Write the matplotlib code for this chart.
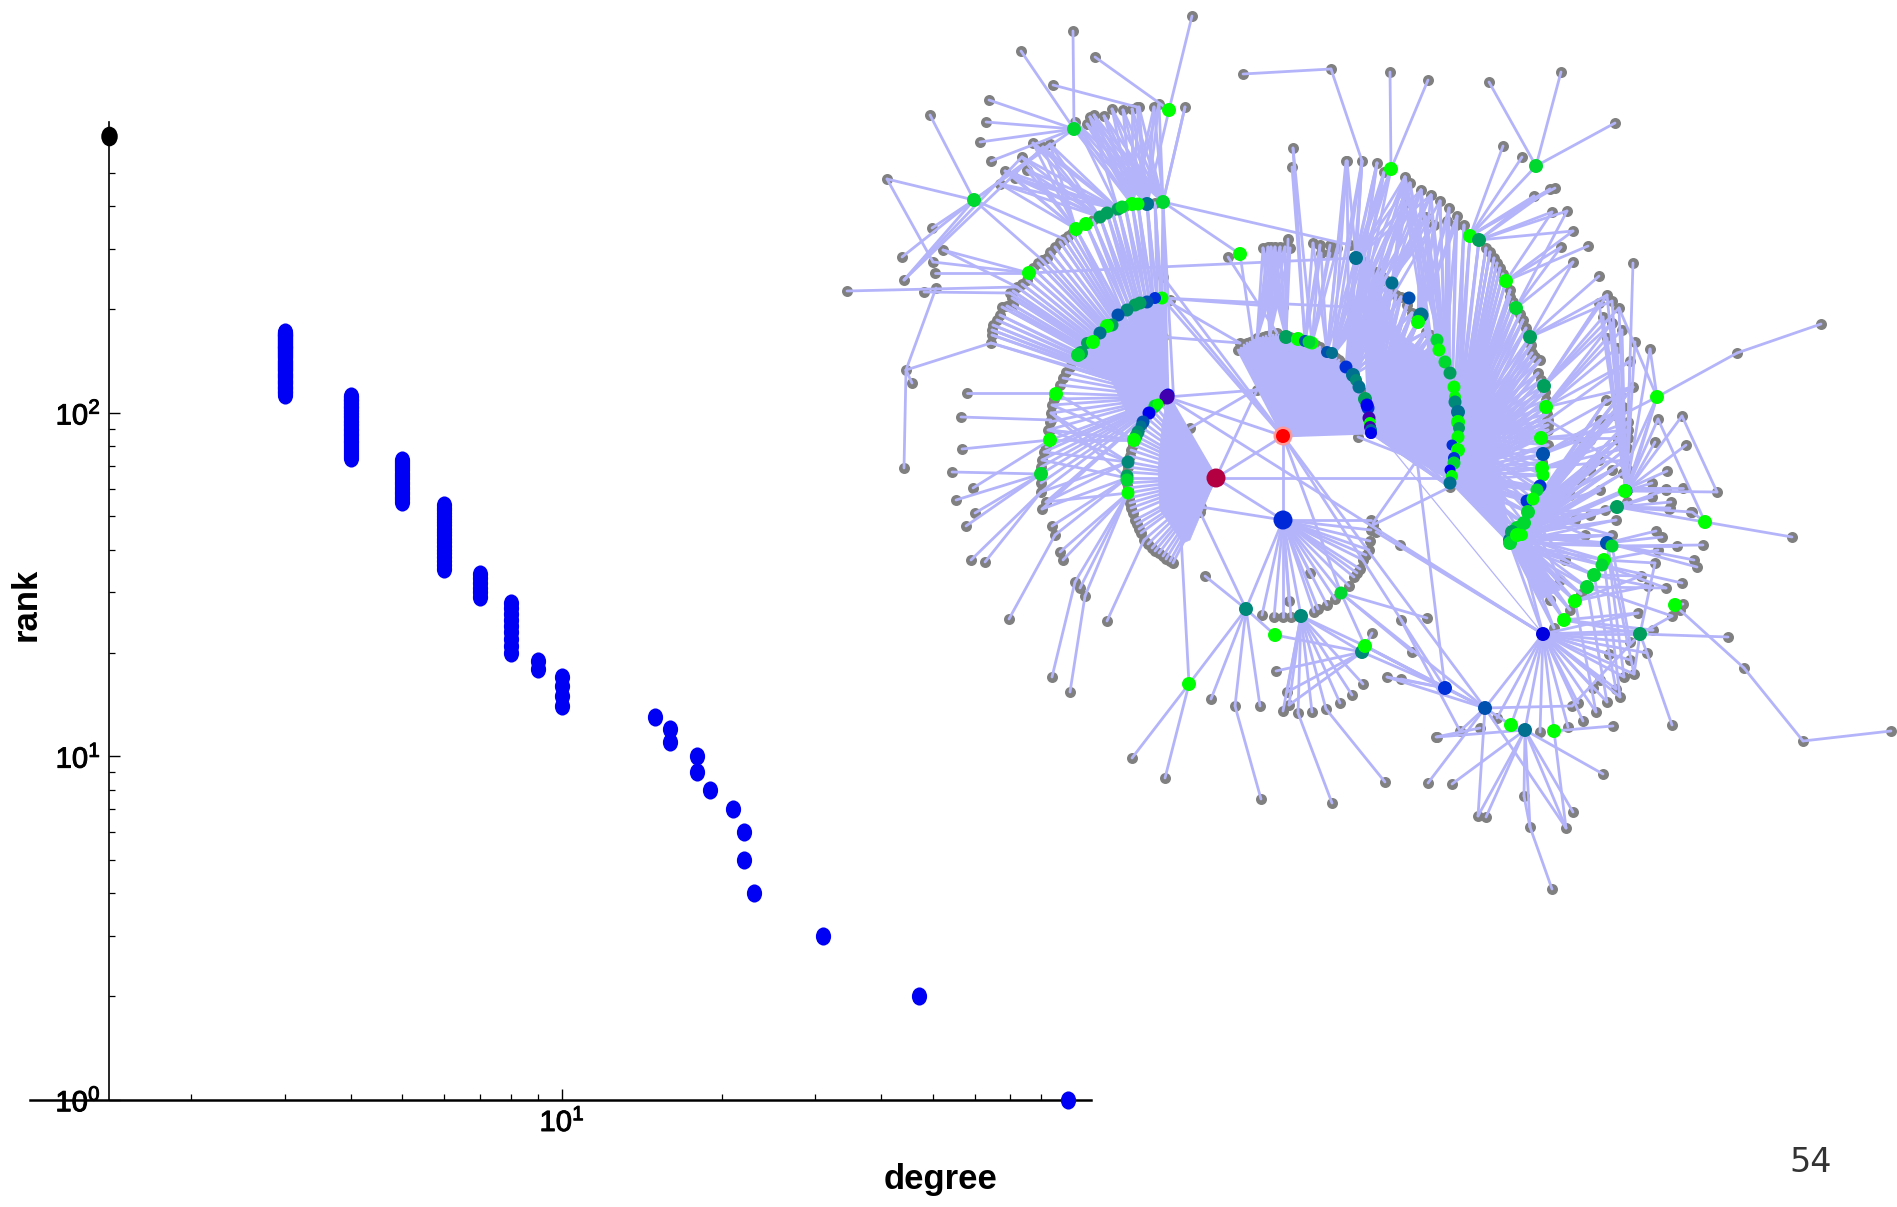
import matplotlib
matplotlib.use("Agg")
import matplotlib.pyplot as plt
import matplotlib.patheffects as pe
from matplotlib.collections import LineCollection
from matplotlib.patches import Polygon
from matplotlib.path import Path
from matplotlib.transforms import Affine2D

plt.rcParams['font.family'] = ['Liberation Sans', 'DejaVu Sans']
plt.rcParams['mathtext.fontset'] = 'custom'
plt.rcParams['mathtext.rm'] = 'Liberation Sans'
plt.rcParams['mathtext.it'] = 'Liberation Sans'
plt.rcParams['mathtext.bf'] = 'Liberation Sans:bold'

# ---------- rank / degree data ----------
deg_3 = [113,114,115,116,117,118,119,120,121,122,123,124,125,126,127,128,129,130,131,132,133,134,135,136,137,138,139,140,141,142,143,144,145,146,147,148,149,150,151,152,153,154,155,156,157,158,159,160,161,162,163,164,165,166,167,168,169,170,171,172]
deg_4 = [74,75,76,77,78,79,80,81,82,83,84,85,86,87,88,89,90,91,92,93,94,95,96,97,98,99,100,101,102,103,104,105,106,107,108,109,110,111,112]
deg_5 = [55,56,57,58,59,60,61,62,63,64,65,66,67,68,69,70,71,72,73]
deg_6 = [35,36,37,38,39,40,41,42,43,44,45,46,47,48,49,50,51,52,53,54]
deg_7 = [29,30,31,32,33,34]
deg_8 = [20,21,22,23,24,25,26,27,28]
deg_9 = [18,19]
deg_10 = [14,15,16,17]
high_degree = [15,16,16,18,18,19,21,22,22,23,31,47,90]
high_rank = [13,12,11,10,9,8,7,6,5,4,3,2,1]
group_degree = [3,4,5,6,7,8,9,10]
group_ranks = [deg_3,deg_4,deg_5,deg_6,deg_7,deg_8,deg_9,deg_10]
origin_point = (1.4, 640)
x_minor = [2,3,4,5,6,7,8,9,20,30,40,50,60,70,80,90]
y_minor = [2,3,4,5,6,7,8,9,20,30,40,50,60,70,80,90,200,300,400,500]

# ---------- network data (layout coordinates) ----------
CRIMSON=(1216,478); RED=(1283,436); BLUE=(1283,520)
PURPLE=(1167,397); F_END=(1371,433); J_HUB=(1450,481); W_HUB=(1510,543)
K=(1543,634); L=(1485,708); M=(1445,688); T=(1525,730); N=(1246,609); P=(1301,616); Q=(1362,652)

C_arc=[(1163,202),(1155,203),(1147,204),(1138,204),(1132,204),(1125,206),(1118,209),(1112,211),(1107,213),(1100,217),(1093,220),(1086,224),(1076,229)]
D_arc=[(1162,298),(1155,298),(1147,302),(1141,303),(1135,305),(1127,310),(1122,312),(1118,315),(1112,325),(1107,326),(1100,333),(1093,342),(1087,343),(1080,353)]
left_gray=[(1072,233),(1068,236),(1064,239),(1060,242),(1055,247),(1050,252),(1047,258),(1042,260),(1038,263),(1033,268),(1029,273),(1027,280),(1022,284),(1017,287),(1013,291),(1010,293),(1012,298),(1013,305),(1007,306),(1002,307),(1000,315),(997,320),(993,325),(992,330),(992,335),(991,343)]
lower_gray=[(1074,360),(1070,367),(1066,372),(1063,378),(1060,385),(1056,393),(1054,399),(1052,405),(1051,413),(1050,422),(1048,430),(1050,440),(1046,447),(1044,452),(1042,460),(1041,467),(1041,474),(1041,483),(1041,492),(1046,502),(1042,509)]
E_arc=[(1168,395),(1160,402),(1155,406),(1152,410),(1149,413),(1146,417),(1143,422),(1141,427),(1138,432),(1136,436),(1134,440),(1133,445),(1131,450),(1130,456),(1128,462),(1128,467),(1127,472),(1127,478),(1127,483),(1128,488),(1128,493),(1129,498),(1130,503),(1131,508),(1133,513),(1135,520),(1137,524),(1139,529),(1141,533),(1144,540),(1148,544),(1152,548),(1155,551),(1159,553),(1163,556),(1166,559),(1170,561),(1173,563)]
F_arc=[(1238,350),(1241,348),(1244,345),(1247,343),(1250,342),(1254,340),(1257,338),(1260,338),(1263,337),(1266,336),(1270,335),(1273,335),(1276,335),(1279,335),(1282,336),(1286,337),(1290,337),(1294,338),(1298,339),(1302,340),(1305,341),(1309,342),(1312,343),(1316,345),(1320,347),(1323,349),(1327,352),(1330,353),(1333,355),(1336,358),(1339,360),(1342,363),(1346,367),(1349,371),(1353,375),(1355,379),(1357,383),(1359,387),(1361,391),(1363,395),(1365,399),(1366,403),(1368,408),(1368,413),(1369,418),(1370,423),(1370,427),(1371,430)]
H_arc=[(1364,262),(1369,269),(1373,271),(1378,272),(1382,277),(1387,281),(1392,283),(1391,292),(1396,295),(1401,297),(1409,298),(1407,305),(1412,313),(1421,315),(1418,322),(1426,332),(1431,335),(1437,340),(1438,345),(1439,350),(1442,356),(1445,362),(1447,367),(1450,373),(1452,380),(1454,387),(1454,392),(1455,397),(1455,402),(1457,407),(1458,412),(1458,417),(1458,422),(1458,427),(1458,432),(1458,437),(1458,441),(1458,445),(1458,450),(1457,454),(1456,458),(1454,463),(1453,467),(1452,471),(1451,475),(1450,479),(1450,487)]
I_arc=[(1464,225),(1470,236),(1479,240),(1486,248),(1490,252),(1494,258),(1497,263),(1500,268),(1503,274),(1506,281),(1510,290),(1510,297),(1513,302),(1516,308),(1520,314),(1523,320),(1526,328),(1530,337),(1531,345),(1532,353),(1535,357),(1540,360),(1538,373),(1541,380),(1544,386),(1545,392),(1546,400),(1546,407),(1547,414),(1547,420),(1548,425),(1548,430),(1541,438),(1548,445),(1543,454),(1542,462),(1542,468),(1543,475),(1540,487),(1537,490),(1533,499),(1527,501),(1528,512),(1524,523),(1519,530),(1517,535),(1510,543)]
I_top=[(1421,190),(1431,195),(1440,201),(1449,208),(1457,216),(1426,217),(1434,225),(1447,221),(1456,225),(1405,203),(1405,177),(1410,183)]
top_row=[(1159,104),(1154,107),(1139,107),(1132,109),(1123,110),(1112,109),(1104,116),(1094,115),(1090,117),(1087,124),(1075,122)]
upper_left=[(1050,144),(1043,147),(1033,143),(1022,157),(1027,170),(1005,171),(1015,178),(1000,184)]
W_arc=[K,(1554,628),(1564,620),(1570,610),(1575,601),(1581,594),(1587,587),(1594,575),(1602,565),(1604,560),(1607,543),(1612,546),(1616,520),(1617,507),(1627,502),(1626,491),(1629,488),(1623,473),(1625,460),(1627,448),(1628,438),(1628,430),(1628,422),(1623,407),(1633,387)]
R_col=[(1599,460),(1590,470),(1580,480),(1570,495),(1600,490),(1590,515),(1605,510),(1575,520),(1585,535),(1612,535),(1560,580),(1565,560),(1550,600),(1612,470),(1618,440),(1615,415),(1620,395),(1600,420),(1590,440),(1606,400)]
H_out=[(1364,262),(1369,269),(1378,272),(1382,277),(1391,292),(1401,297),(1412,313),(1426,332)]
gap_top=[(1347,161),(1362,161),(1377,163),(1384,172),(1391,169),(1405,177),(1410,183),(1421,190),(1431,195),(1405,203),(1426,217),(1434,225)]

fans=[
 (CRIMSON,[PURPLE]+E_arc+[RED,BLUE,(1448,478),(1257,390)]),
 (RED,F_arc+[F_END,PURPLE,BLUE,L,M,(1163,277),(1170,300),(1341,593)]),
 (BLUE,[(1371,520),(1371,530),(1370,541),(1369,550),(1366,555),(1363,560),(1360,569),(1357,573),(1354,577),(1349,586),(1341,593),(1335,599),(1327,605),(1318,609),(1310,573),(1314,612),P,(1291,617),(1283,617),(1274,617),(1262,615),(1289,601),N,(1201,507)]),
 (PURPLE,C_arc+D_arc+left_gray+lower_gray+[K,(1257,390)]),
 ((1168,395),C_arc+D_arc+left_gray),
 ((1160,402),D_arc+C_arc),
 ((1155,406),D_arc),
 (F_END,H_arc+[(1450,487)]),
 ((1371,427),H_arc),
 ((1368,408),H_out+H_arc),
 ((1349,371),H_out+gap_top),
 ((1333,355),gap_top),
 (J_HUB,I_arc+I_top),
 ((1452,471),I_arc),
 ((1458,437),I_arc),
 ((1445,362),I_top),
 (W_HUB,W_arc+R_col),
 ((1517,535),W_arc+R_col),
 ((1528,512),R_col),
 (K,[L,(1497,718),T,(1540,732),(1554,731),(1568,727),(1583,721),(1596,712),(1607,702),(1620,697),(1616,689),(1600,680),(1593,688),(1578,703),(1624,677),(1634,674),(1609,654),(1630,660),(1630,642),(1640,634),(1638,613),(1653,630),(1647,653),(1511,725),(1400,545),(1376,532)]),
 (T,[(1437,737),(1452,784),(1486,817),(1478,816),(1530,827),(1566,828),(1573,812),(1603,774),(1524,796),(1511,725)]),
 ((1530,827),[(1552,889),(1524,796)]),
 (L,[M,(1428,783),(1566,828),(1478,816),(1511,725),(1572,706),(1341,593),(1387,677),(1365,646),(1460,731)]),
 ((1572,706),[(1640,634)]),
 ((1554,731),[(1566,828),(1613,726)]),
 (M,[(1401,679),(1365,646),(1362,652),(1417,460)]),
 ((1417,460),[(1373,523),(1358,437),(1448,478)]),
 ((1373,525),[(1450,487)]),
 ((1460,731),[(1401,620)]),
 (N,[(1205,576),(1275,635),(1189,684),(1211,699),(1235,706),(1260,706),(1200,512)]),
 ((1235,706),[(1261,799)]),
 ((1189,684),[(1132,758),(1165,778),(1163,202)]),
 (P,[(1287,692),(1289,705),(1283,711),(1298,713),(1312,712),(1326,709),(1340,703),(1352,695),(1363,684),Q,(1365,646)]),
 ((1298,713),[(1332,803)]),
 ((1326,709),[(1385,782)]),
 (Q,[(1276,671),(1287,692),(1289,705),(1275,635)]),
 ((1341,593),[(1427,618),(1412,652),(1365,646)]),
 ((1365,646),[(1372,633),(1445,688),(1485,708)]),
 (M,[(1387,677)]),
 ((1436,737),[(1480,728)]),
 ((1074,129),[(1073,31),(1021,51),(989,100),(986,122),(980,142),(991,161),(1147,204),(1132,204)]),
 ((1169,110),[(1192,16),(1095,57),(1147,204)]),
 ((1053,85),[(1137,107)]),
 ((1185,107),[(1163,202)]),
 ((1137,107),[(1147,204)]),
 ((974,200),[(930,115),(887,179),(902,257),(904,280),(1064,239),(1042,260),(932,228),(1074,129),(1050,144)]),
 ((887,179),[(933,262)]),
 ((904,280),[(1022,157),(1043,147)]),
 ((1029,273),[(943,250),(935,273),(933,262)]),
 ((1017,287),[(847,291),(943,250)]),
 ((1010,293),[(924,292)]),
 ((936,288),[(906,370)]),
 ((991,343),[(906,370)]),
 ((906,370),[(904,468),(912,383)]),
 ((1056,393),[(967,393)]),
 ((1051,420),[(961,417)]),
 ((1050,440),[(962,449),(973,488)]),
 ((1041,474),[(952,472),(956,500),(975,513),(966,526)]),
 ((1041,492),[(971,560),(985,562)]),
 ((1055,535),[(1009,619)]),
 ((1075,582),[(1052,677)]),
 ((1085,596),[(1070,692)]),
 ((1144,540),[(1107,621)]),
 ((1128,462),[(1051,413),(1050,430),(1044,452),(1041,492),(1046,502)]),
 ((1127,478),[(1042,460),(1042,509),(1052,526),(1055,535),(1051,413)]),
 ((1128,493),[(1060,552),(1063,560),(1075,582),(1080,588),(1085,596),(1046,502)]),
 ((1134,440),[(1056,393),(1050,430),(1050,440),(1052,405),(1048,430)]),
 ((1163,202),[(1240,254),(1350,245),(1185,107)]+top_row),
 ((1147,204),top_row),
 ((1132,204),top_row),
 ((1118,209),[(1090,117),(1075,122)]+upper_left),
 ((1100,217),upper_left),
 ((1076,229),upper_left),
 ((1029,273),[(1356,258)]),
 ((1162,298),[(1283,307),(1283,437),(1240,343),(1350,307)]),
 ((1163,337),[(1240,343)]),
 ((1240,254),[(1253,343)]),
 ((1228,257),[(1277,333)]),
 ((1190,428),[(1260,387)]),
 ((1286,337),[(1263,248),(1268,247),(1271,247),(1275,247),(1280,247),(1285,247),(1288,239),(1290,248)]),
 ((1257,338),[(1263,248),(1268,247),(1271,247),(1275,247),(1280,247),(1285,247)]),
 ((1270,335),[(1263,248),(1268,247),(1275,247),(1280,247),(1290,248),(1271,247),(1285,247)]),
 ((1305,341),[(1313,243),(1320,245),(1321,253),(1292,167),(1293,148)]),
 ((1312,343),[(1330,245),(1337,248),(1330,253),(1320,245),(1293,148)]),
 ((1327,352),[(1313,243),(1321,253),(1356,258),(1346,161),(1362,161),(1347,161)]),
 ((1346,367),[(1364,262),(1369,269),(1378,272),(1382,277),(1362,161),(1377,163),(1384,172)]),
 ((1353,375),[(1391,292),(1401,297),(1412,313),(1426,332),(1405,203)]),
 ((1243,74),[(1331,69)]),
 ((1331,69),[(1362,161)]),
 ((1356,258),[(1347,161),(1362,161),(1377,163),(1384,172),(1391,169),(1405,177),(1410,183),(1421,190),(1431,195)]),
 ((1391,169),[(1390,72),(1428,80)]),
 ((1392,283),[(1405,177),(1410,183),(1421,190),(1431,195),(1440,201),(1405,203),(1426,217)]),
 ((1418,322),[(1434,225),(1447,221),(1456,225),(1449,208),(1457,216),(1440,201),(1421,190),(1431,195)]),
 ((1470,236),[(1503,146),(1522,157),(1536,166),(1550,189),(1534,196),(1555,188)]),
 ((1536,166),[(1489,82),(1561,72),(1615,123)]),
 ((1479,240),[(1552,212),(1567,211),(1573,231),(1534,196),(1550,189)]),
 ((1506,281),[(1588,246),(1561,247),(1573,231),(1552,212)]),
 ((1516,308),[(1573,262),(1561,247),(1567,211)]),
 ((1530,337),[(1599,276),(1573,262),(1607,295),(1612,301)]),
 ((1544,386),[(1599,303),(1603,317),(1619,308),(1607,295),(1612,323)]),
 ((1546,407),[(1633,387),(1617,348),(1607,338),(1622,330),(1612,323),(1630,361)]),
 ((1548,420),[(1628,470),(1630,361)]),
 ((1543,454),[(1577,438),(1623,407),(1628,422)]),
 ((1541,438),[(1628,430),(1628,438),(1633,387)]),
 ((1542,468),[(1628,438),(1627,448),(1625,460)]),
 ((1657,397),[(1577,438),(1737,353),(1650,349),(1619,308),(1626,491),(1629,488),(1623,473)]),
 ((1737,353),[(1821,324)]),
 ((1626,491),[(1607,295),(1612,301),(1599,303),(1619,308),(1603,317),(1612,323),(1622,330),(1607,338),(1617,348),(1630,361),(1635,342),(1633,263),(1650,349),(1658,419),(1652,483),(1717,492)]),
 ((1629,488),[(1655,442),(1686,445),(1667,471),(1683,488),(1666,489),(1682,416)]),
 ((1682,416),[(1717,492)]),
 ((1658,419),[(1705,522)]),
 ((1705,522),[(1792,537),(1692,512),(1617,507)]),
 ((1617,507),[(1652,497),(1671,502),(1669,509),(1670,508),(1691,512),(1666,490)]),
 ((1612,546),[(1630,642),(1703,545),(1677,546)]),
 ((1607,543),[(1624,677),(1634,674),(1694,560),(1697,567),(1662,537),(1656,531)]),
 ((1604,560),[(1620,697),(1658,550),(1655,563)]),
 ((1602,565),[(1682,583),(1666,588)]),
 ((1594,575),[(1648,586),(1641,576),(1616,689)]),
 ((1587,587),[(1672,616),(1666,588),(1607,702)]),
 ((1575,601),[(1641,576),(1648,586),(1596,712)]),
 ((1564,620),[(1640,634),(1638,613),(1653,630)]),
 ((1640,634),[(1728,637),(1647,653),(1634,674),(1655,563),(1672,616)]),
 ((1647,653),[(1672,725)]),
 ((1675,605),[(1683,604)]),
 ((1680,610),[(1744,668)]),
 ((1744,668),[(1803,741)]),
 ((1803,741),[(1891,731)]),
]
# solid wedges: hub, outer boundary of the wedge
solid_wedges=[
 [RED,(1238,350),(1257,338),(1282,336),(1312,343),(1346,367),(1361,391),(1371,433)],
 [CRIMSON,(1167,397),(1162,425),(1158,470),(1160,510),(1183,543),(1190,540)],
 [F_END,(1368,408),(1395,330),(1415,345),(1440,360),(1450,385),(1452,430),(1450,479)],
 [J_HUB,(1462,440),(1500,470),(1510,543)],
 [W_HUB,(1540,600),(1560,590),(1530,550)],
 [PURPLE,(1160,300),(1095,345),(1130,420)],
]

lime='#00ff00'; med='#00d830'; grn='#00a05c'; sea='#008878'; tea='#007090'; dbl='#0050b0'; rbl='#0030d8'; bbl='#0000f0'; pur='#4000b0'
colored=[
 (1283,436,'#ff9a9a',19),(1283,436,'#ff0000',14),
 (1216,478,'#b20040',19),(1283,520,'#0028d8',19),
 (1168,395,bbl,13),(1167,397,pur,15),(1155,406,med,13),(1158,404,lime,11),(1149,413,bbl,13),(1143,422,dbl,13),(1141,426,tea,11),(1138,432,sea,13),(1136,436,grn,13),(1134,440,lime,14),
 (1128,462,sea,13),(1127,476,grn,13),(1127,480,med,13),(1128,493,lime,13),(1056,394,lime,14),(1050,440,lime,14),(1041,474,med,14),
 (1163,202,med,14),(1147,204,tea,14),(1138,204,lime,13),(1132,204,lime,14),(1118,209,grn,13),(1122,207,med,13),(1107,213,grn,13),(1100,217,grn,13),(1086,224,lime,14),(1076,229,lime,14),
 (1162,298,lime,13),(1155,298,rbl,12),(1147,302,dbl,13),(1140,303,grn,13),(1135,305,grn,13),(1127,310,sea,13),(1118,315,dbl,13),(1112,325,grn,13),(1107,326,lime,14),(1100,333,tea,13),(1087,343,grn,12),(1093,342,lime,14),(1081,353,grn,14),(1078,355,med,14),
 (1074,129,med,14),(1169,110,lime,14),(974,200,med,14),(1029,273,lime,14),(1240,254,lime,14),(1189,684,lime,14),(1275,635,lime,14),(1246,609,sea,14),(1301,616,sea,14),(1341,593,med,13),(1362,652,sea,14),(1365,646,lime,14),(1445,688,rbl,14),(1485,708,dbl,14),
 (1286,337,grn,14),(1298,339,lime,14),(1305,341,dbl,12),(1312,343,lime,13),(1309,342,med,13),(1327,352,dbl,12),(1332,353,tea,12),(1346,367,rbl,13),(1353,375,tea,14),(1356,380,sea,12),(1359,387,tea,13),(1365,399,grn,14),(1368,408,rbl,13),(1367,405,bbl,13),(1369,418,pur,13),(1370,423,lime,12),(1370,427,pur,12),(1371,430,tea,12),(1371,433,bbl,12),
 (1356,258,tea,14),(1392,283,tea,13),(1409,298,dbl,13),(1421,315,tea,15),(1418,322,lime,14),
 (1437,340,med,13),(1439,350,lime,13),(1445,362,med,13),(1450,373,grn,13),(1454,387,lime,13),(1455,397,lime,12),(1455,402,sea,13),(1458,412,tea,14),(1458,422,lime,14),(1459,428,grn,12),(1458,437,lime,13),(1452,445,rbl,11),(1458,450,lime,14),(1454,458,rbl,12),(1454,463,med,13),(1450,470,bbl,11),(1452,476,lime,12),(1450,483,tea,13),
 (1391,169,lime,14),(1470,236,lime,14),(1479,240,grn,14),(1506,281,lime,14),(1516,308,med,14),(1530,337,grn,14),(1544,386,grn,14),(1546,407,lime,14),(1541,438,lime,14),(1543,454,dbl,14),(1542,468,lime,14),(1543,475,lime,13),(1540,486,rbl,13),(1537,490,med,13),(1527,501,rbl,13),(1533,499,lime,13),(1528,512,med,14),(1524,523,med,14),(1517,528,med,14),(1510,540,tea,14),(1512,532,grn,14),(1510,543,med,14),(1517,535,lime,14),(1522,535,lime,12),
 (1536,166,med,14),(1607,543,dbl,14),(1612,546,med,13),(1604,560,lime,14),(1602,565,med,13),(1594,575,med,14),(1587,587,med,14),(1575,601,lime,14),(1564,620,lime,14),(1543,634,'#0000e0',14),(1626,491,tea,13),(1625,491,lime,14),(1617,507,grn,14),(1657,397,lime,14),(1705,522,lime,14),(1675,605,lime,14),(1640,634,grn,14),
 (1511,725,lime,14),(1525,730,tea,14),(1554,731,lime,14),
]

# ---------- figure ----------
W, H = 1897, 1207
fig = plt.figure(figsize=(W/100, H/100), dpi=100, facecolor='white')

# log-log plot
left, right, top, bottom = 30, 1091, 122, 1099.7
ax = fig.add_axes([left/W, 1-bottom/H, (right-left)/W, (bottom-top)/H])
ax.set_xscale('log'); ax.set_yscale('log')
ax.set_xlim(0.994, 99.3); ax.set_ylim(1, 703)
ell = Path.unit_circle().transformed(Affine2D().scale(0.84, 1.0))
for d, rs in zip(group_degree, group_ranks):
    ax.scatter([d]*len(rs), rs, marker=ell, s=170, color='#0000f5', linewidths=0, zorder=3, clip_on=False)
ax.scatter(high_degree, high_rank, marker=ell, s=170, color='#0000f5', linewidths=0, zorder=3, clip_on=False)
ax.scatter([origin_point[0]], [origin_point[1]], marker=ell, s=200, color='black', linewidths=0, zorder=3, clip_on=False)
for s in ('top', 'right'):
    ax.spines[s].set_visible(False)
ax.spines['left'].set_position(('data', 1.4))
ax.spines['left'].set_linewidth(1.2)
ax.spines['bottom'].set_linewidth(1.8)
ax.patch.set_alpha(0)
ax.set_xticks([10]); ax.set_xticklabels([r'$\mathregular{10^{1}}$'])
ax.set_xticks(x_minor, minor=True); ax.set_xticklabels([], minor=True)
ax.set_yticks([1, 10, 100]); ax.set_yticklabels([r'$\mathregular{10^{0}}$', r'$\mathregular{10^{1}}$', r'$\mathregular{10^{2}}$'])
ax.set_yticks(y_minor, minor=True); ax.set_yticklabels([], minor=True)
ax.tick_params(axis='both', which='major', direction='in', length=8, width=1, labelsize=21, pad=6)
ax.tick_params(axis='both', which='minor', direction='in', length=4, width=0.9)
for lab in ax.get_xticklabels() + ax.get_yticklabels():
    lab.set_path_effects([pe.withStroke(linewidth=0.7, foreground='black')])
fig.text(941/W, 1-1180/H, 'degree', fontsize=25, fontweight='bold', ha='center', va='center')
fig.text(26/W, 1-604/H, 'rank', fontsize=25, fontweight='bold', rotation=90, ha='center', va='center')
fig.text(1811/W, 1-1162/H, '54', fontsize=24, family='DejaVu Sans', color='#333333', ha='center', va='center')

# network
EDGE = '#b4b4fa'
net = fig.add_axes([0, 0, 1, 1], facecolor='none')
net.set_xlim(0, W); net.set_ylim(H, 0); net.axis('off')
segs = []; gray = []
for hub, targets in fans:
    gray.append(hub)
    for t in targets:
        segs.append([hub, t]); gray.append(t)
gray = list(dict.fromkeys(gray))
net.scatter([p[0] for p in gray], [p[1] for p in gray], s=(11*0.72)**2, color='#808080', linewidths=0, zorder=1)
for w in solid_wedges:
    net.add_patch(Polygon(w, closed=True, facecolor=EDGE, edgecolor=EDGE, linewidth=0.5, zorder=2))
net.add_collection(LineCollection(segs, colors=EDGE, linewidths=2.0, zorder=2, capstyle='round'))
net.plot([1387, 1543], [443, 634], color=EDGE, lw=0.9, zorder=2)
net.scatter([c[0] for c in colored], [c[1] for c in colored], s=[(c[3]*0.72)**2 for c in colored],
            c=[c[2] for c in colored], linewidths=0, zorder=3)

fig.savefig('out.png', dpi=100)
